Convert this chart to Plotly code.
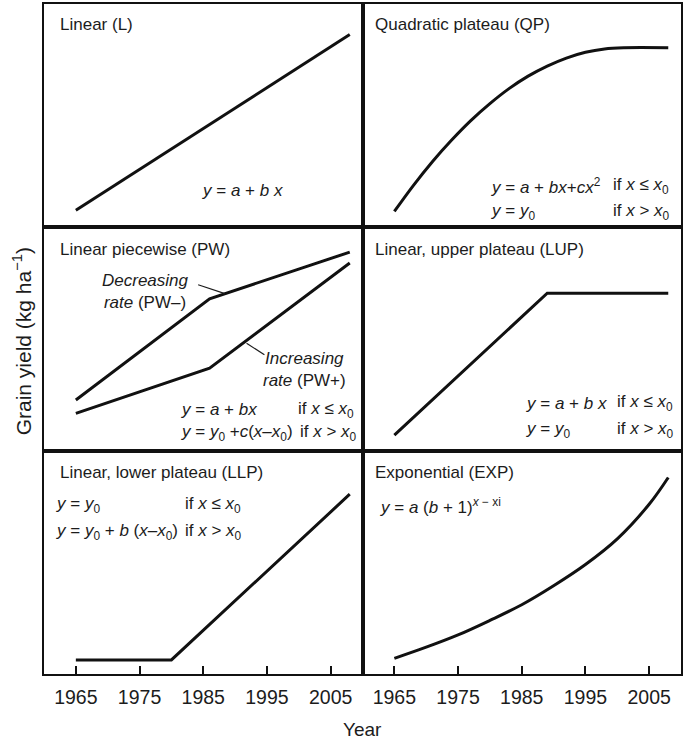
import plotly.graph_objects as go
from plotly.subplots import make_subplots

# ---- data (yield in relative units 0-100) ----
L_years = [1965, 2008]
L_vals = [7.7, 86.3]

QP_years = [1965, 1968, 1971, 1974, 1977, 1980, 1983, 1986, 1989, 1992, 1995, 1998, 2001, 2008]
QP_vals = [7.1, 18.8, 29.5, 39.1, 47.8, 55.4, 62.1, 67.7, 72.2, 75.8, 78.4, 79.9, 80.4, 80.4]

PWd_years = [1965, 1986, 2008]
PWd_vals = [22.7, 68.0, 88.9]
PWi_years = [1965, 1986, 2008]
PWi_vals = [16.7, 36.9, 84.0]

LUP_years = [1965, 1989, 2008]
LUP_vals = [7.0, 70.5, 70.5]

LLP_years = [1965, 1980, 2008]
LLP_vals = [6.3, 6.3, 80.5]

EXP_years = [1965, 1970, 1975, 1980, 1985, 1990, 1995, 2000, 2005, 2008]
EXP_vals = [7.0, 12.0, 17.5, 24.0, 31.0, 39.5, 49.0, 60.5, 76.0, 88.0]

tick_vals = [1965, 1975, 1985, 1995, 2005]
tick_text = ["1965", "1975", "1985", "1995", "2005"]

titles = ["Linear (L)", "Quadratic plateau (QP)", "Linear piecewise (PW)",
          "Linear, upper plateau (LUP)", "Linear, lower plateau (LLP)", "Exponential (EXP)"]

FONT = "Liberation Sans, Arial, Helvetica, sans-serif"
INK = "#111111"
TXT = "#1c1c1c"

fig = make_subplots(rows=3, cols=2, horizontal_spacing=0, vertical_spacing=0)

series = [
    (1, 1, L_years, L_vals, "linear"),
    (1, 2, QP_years, QP_vals, "spline"),
    (2, 1, PWd_years, PWd_vals, "linear"),
    (2, 1, PWi_years, PWi_vals, "linear"),
    (2, 2, LUP_years, LUP_vals, "linear"),
    (3, 1, LLP_years, LLP_vals, "linear"),
    (3, 2, EXP_years, EXP_vals, "spline"),
]
for r, c, xs, ys, shape in series:
    fig.add_trace(go.Scatter(x=xs, y=ys, mode="lines",
                             line=dict(color=INK, width=3, shape=shape),
                             showlegend=False, hoverinfo="skip"), row=r, col=c)

for i in range(1, 7):
    bottom = i in (5, 6)
    fig.update_layout(**{
        f"xaxis{i}": dict(range=[1960, 2010], showgrid=False, zeroline=False,
                          showline=True, linecolor=INK, linewidth=2.2, mirror=True,
                          ticks="inside" if bottom else "", ticklen=8, tickwidth=2,
                          tickcolor=INK, tickvals=tick_vals, ticktext=tick_text,
                          showticklabels=bottom, ticklabelstandoff=4,
                          tickfont=dict(family=FONT, size=19.5, color=TXT)),
        f"yaxis{i}": dict(range=[0, 100], showgrid=False, zeroline=False,
                          showline=True, linecolor=INK, linewidth=2.2, mirror=True,
                          ticks="", showticklabels=False),
    })

ann = []

def add(ax, x, y, text, xanchor="left", align="left", size=17):
    ann.append(dict(xref=f"x{ax}" if ax > 1 else "x", yref=f"y{ax}" if ax > 1 else "y",
                    x=x, y=y, text=text, showarrow=False, xanchor=xanchor,
                    yanchor="middle", align=align,
                    font=dict(family=FONT, size=size, color=TXT)))

# panel titles
title_pos = [(1, 1962.2, 91.0), (2, 1961.7, 90.6), (3, 1962.2, 90.0),
             (4, 1961.7, 90.0), (5, 1962.2, 90.3), (6, 1961.7, 90.3)]
for (ax, x, y), t in zip(title_pos, titles):
    add(ax, x, y, t)

# equations
add(1, 1991.1, 16.4, "<i>y</i> = <i>a</i> + <i>b x</i>", xanchor="center")

add(2, 1979.8, 18.3, "<i>y</i> = <i>a</i> + <i>bx</i>+<i>cx</i><sup>2</sup>")
add(2, 1999.0, 18.3, "if <i>x</i> ≤ <i>x</i><sub>0</sub>")
add(2, 1979.8, 6.8, "<i>y</i> = <i>y</i><sub>0</sub>")
add(2, 1999.0, 6.8, "if <i>x</i> > <i>x</i><sub>0</sub>")

add(3, 1981.2, 18.3, "<i>y</i> = <i>a</i> + <i>bx</i>")
add(3, 1999.6, 18.3, "if <i>x</i> ≤ <i>x</i><sub>0</sub>")
add(3, 1981.2, 7.8, "<i>y</i> = <i>y</i><sub>0</sub> +<i>c</i>(<i>x</i>–<i>x</i><sub>0</sub>)")
add(3, 1999.8, 7.8, "if <i>x</i> > <i>x</i><sub>0</sub>")
add(3, 1983.1, 71.3, "<i>Decreasing</i><br><i>rate</i> (PW–)", xanchor="right", align="center")
add(3, 2007.8, 36.5, "<i>Increasing</i><br><i>rate</i> (PW+)", xanchor="right", align="center")

add(4, 1985.3, 21.2, "<i>y</i> = <i>a</i> + <i>b x</i>")
add(4, 1999.6, 21.2, "if <i>x</i> ≤ <i>x</i><sub>0</sub>")
add(4, 1985.3, 9.3, "<i>y</i> = <i>y</i><sub>0</sub>")
add(4, 1999.6, 9.3, "if <i>x</i> > <i>x</i><sub>0</sub>")

add(5, 1961.6, 75.8, "<i>y</i> = <i>y</i><sub>0</sub>")
add(5, 1981.8, 75.8, "if <i>x</i> ≤ <i>x</i><sub>0</sub>")
add(5, 1961.6, 63.5, "<i>y</i> = <i>y</i><sub>0</sub> + <i>b</i> (<i>x</i>–<i>x</i><sub>0</sub>)")
add(5, 1981.8, 63.5, "if <i>x</i> > <i>x</i><sub>0</sub>")

add(6, 1962.4, 75.0, "<i>y</i> = <i>a</i> (<i>b</i> + 1)<sup><i>x</i> − xi</sup>")

# axis titles
ann.append(dict(xref="paper", yref="paper", x=-0.034, y=0.497, textangle=-90,
                text="Grain yield (kg ha<sup>−1</sup>)", showarrow=False,
                xanchor="center", yanchor="middle",
                font=dict(family=FONT, size=21, color=TXT)))
ann.append(dict(xref="paper", yref="paper", x=0.5, y=-0.083, text="Year",
                showarrow=False, xanchor="center", yanchor="middle",
                font=dict(family=FONT, size=19, color=TXT)))

# leader lines in PW panel
shapes = [
    dict(type="line", xref="x3", yref="y3", x0=1984.2, y0=74.3, x1=1988.4, y1=70.3,
         line=dict(color=TXT, width=1.2)),
    dict(type="line", xref="x3", yref="y3", x0=1991.8, y0=48.1, x1=1994.6, y1=42.9,
         line=dict(color=TXT, width=1.2)),
]

fig.update_layout(width=685, height=742, margin=dict(l=44, r=2, t=2, b=68),
                  paper_bgcolor="white", plot_bgcolor="white",
                  annotations=ann, shapes=shapes, showlegend=False)

fig.write_html("out.html", config={"displayModeBar": False},
               post_script="document.body.style.margin='0';document.body.style.padding='0';")
